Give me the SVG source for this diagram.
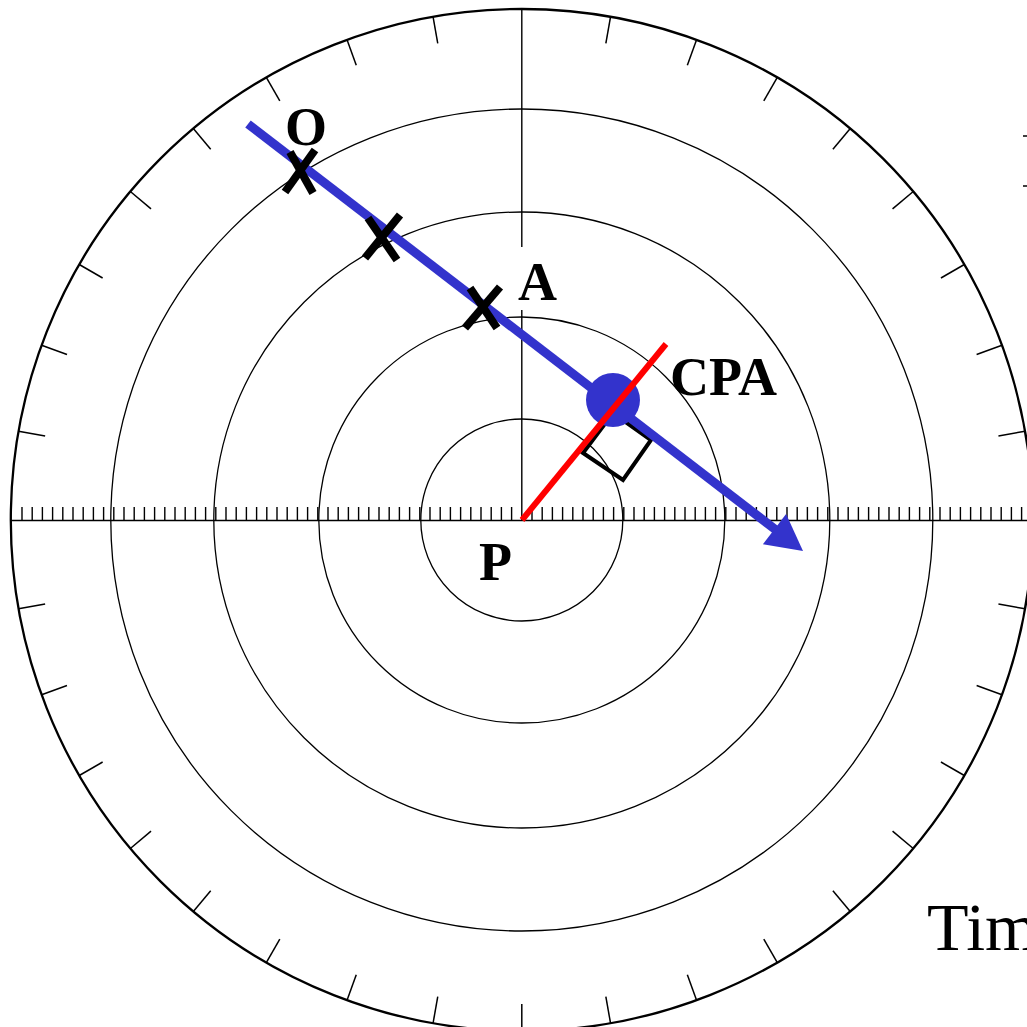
<svg xmlns="http://www.w3.org/2000/svg" width="1027" height="1027" viewBox="0 0 1027 1027">
<style>
.ring{fill:none;stroke:#000;stroke-width:1.3}
.outer{fill:none;stroke:#000;stroke-width:2.3}
.tick{stroke:#000;stroke-width:1.5}
.axis{stroke:#000;stroke-width:1.4;fill:none}
.xm{stroke:#000;stroke-width:8;stroke-linecap:butt}
.lbl{font-family:"Liberation Serif","Times New Roman",serif;font-weight:bold;font-size:54px;fill:#000}
.big{font-family:"Liberation Serif","Times New Roman",serif;font-size:68px;fill:#000}
.track{stroke:#3333CC;stroke-width:9;fill:none}
.cpa{stroke:#FF0000;stroke-width:6;fill:none}
</style>
<defs>
<line id="otick" class="tick" x1="521.8" y1="9" x2="521.8" y2="36"/>
</defs>
<rect width="1027" height="1027" fill="#fff"/>
<g id="grid">
<circle class="outer" cx="521.8" cy="520" r="511"/>
<circle class="ring" cx="521.8" cy="520" r="101"/>
<circle class="ring" cx="521.8" cy="520" r="203"/>
<circle class="ring" cx="521.8" cy="520" r="308"/>
<circle class="ring" cx="521.8" cy="520" r="411"/>
<g id="outer-ticks">
<use href="#otick" transform="rotate(10 521.8 520)"/>
<use href="#otick" transform="rotate(20 521.8 520)"/>
<use href="#otick" transform="rotate(30 521.8 520)"/>
<use href="#otick" transform="rotate(40 521.8 520)"/>
<use href="#otick" transform="rotate(50 521.8 520)"/>
<use href="#otick" transform="rotate(60 521.8 520)"/>
<use href="#otick" transform="rotate(70 521.8 520)"/>
<use href="#otick" transform="rotate(80 521.8 520)"/>
<use href="#otick" transform="rotate(100 521.8 520)"/>
<use href="#otick" transform="rotate(110 521.8 520)"/>
<use href="#otick" transform="rotate(120 521.8 520)"/>
<use href="#otick" transform="rotate(130 521.8 520)"/>
<use href="#otick" transform="rotate(140 521.8 520)"/>
<use href="#otick" transform="rotate(150 521.8 520)"/>
<use href="#otick" transform="rotate(160 521.8 520)"/>
<use href="#otick" transform="rotate(170 521.8 520)"/>
<use href="#otick" transform="rotate(180 521.8 520)"/>
<use href="#otick" transform="rotate(190 521.8 520)"/>
<use href="#otick" transform="rotate(200 521.8 520)"/>
<use href="#otick" transform="rotate(210 521.8 520)"/>
<use href="#otick" transform="rotate(220 521.8 520)"/>
<use href="#otick" transform="rotate(230 521.8 520)"/>
<use href="#otick" transform="rotate(240 521.8 520)"/>
<use href="#otick" transform="rotate(250 521.8 520)"/>
<use href="#otick" transform="rotate(260 521.8 520)"/>
<use href="#otick" transform="rotate(280 521.8 520)"/>
<use href="#otick" transform="rotate(290 521.8 520)"/>
<use href="#otick" transform="rotate(300 521.8 520)"/>
<use href="#otick" transform="rotate(310 521.8 520)"/>
<use href="#otick" transform="rotate(320 521.8 520)"/>
<use href="#otick" transform="rotate(330 521.8 520)"/>
<use href="#otick" transform="rotate(340 521.8 520)"/>
<use href="#otick" transform="rotate(350 521.8 520)"/>
</g>
<path class="axis" d="M11 520.5H1027M521.8 9V247M521.8 310V520"/>
<path class="axis" d="M22 507v13.5M32.2 507v13.5M42.4 507v13.5M52.6 507v13.5M62.8 507v13.5M73 507v13.5M83.2 507v13.5M93.4 507v13.5M103.6 507v13.5M113.8 507v13.5M124 507v13.5M134.2 507v13.5M144.4 507v13.5M154.6 507v13.5M164.8 507v13.5M175 507v13.5M185.2 507v13.5M195.4 507v13.5M205.6 507v13.5M215.8 507v13.5M226 507v13.5M236.2 507v13.5M246.4 507v13.5M256.6 507v13.5M266.8 507v13.5M277 507v13.5M287.2 507v13.5M297.4 507v13.5M307.6 507v13.5M317.8 507v13.5M328 507v13.5M338.2 507v13.5M348.4 507v13.5M358.6 507v13.5M368.8 507v13.5M379 507v13.5M389.2 507v13.5M399.4 507v13.5M409.6 507v13.5M419.8 507v13.5M430 507v13.5M440.2 507v13.5M450.4 507v13.5M460.6 507v13.5M470.8 507v13.5M481 507v13.5M491.2 507v13.5M501.4 507v13.5M511.6 507v13.5M532 507v13.5M542.2 507v13.5M552.4 507v13.5M562.6 507v13.5M572.8 507v13.5M583 507v13.5M593.2 507v13.5M603.4 507v13.5M613.6 507v13.5M623.8 507v13.5M634 507v13.5M644.2 507v13.5M654.4 507v13.5M664.6 507v13.5M674.8 507v13.5M685 507v13.5M695.2 507v13.5M705.4 507v13.5M715.6 507v13.5M725.8 507v13.5M736 507v13.5M746.2 507v13.5M756.4 507v13.5M766.6 507v13.5M776.8 507v13.5M787 507v13.5M797.2 507v13.5M807.4 507v13.5M817.6 507v13.5M827.8 507v13.5M838 507v13.5M848.2 507v13.5M858.4 507v13.5M868.6 507v13.5M878.8 507v13.5M889 507v13.5M899.2 507v13.5M909.4 507v13.5M919.6 507v13.5M929.8 507v13.5M940 507v13.5M950.2 507v13.5M960.4 507v13.5M970.6 507v13.5M980.8 507v13.5M991 507v13.5M1001.2 507v13.5M1011.4 507v13.5M1021.6 507v13.5"/>
<path class="axis" stroke-width="1.5" d="M1023 136H1027M1023 186H1027"/>
</g>
<g id="right-angle">
<polygon points="613,413 651,440 623,480 583,453" fill="none" stroke="#000" stroke-width="4"/>
</g>
<g id="connectors">
<line class="track" x1="248" y1="124" x2="776" y2="530"/>
<polygon points="803,551 762.9,544.2 786.1,514" fill="#3333CC"/>
<circle cx="613" cy="400" r="27" fill="#3333CC"/>
<line class="cpa" x1="522" y1="520" x2="666" y2="344"/>
</g>
<g id="node-O">
<line class="xm" x1="285" y1="192" x2="315" y2="150"/>
<line class="xm" x1="290" y1="152" x2="313" y2="193"/>
<text class="lbl" x="285" y="145">O</text>
</g>
<g id="node-X2">
<line class="xm" x1="365" y1="258" x2="400" y2="215"/>
<line class="xm" x1="368" y1="218" x2="397" y2="260"/>
</g>
<g id="node-A">
<line class="xm" x1="465" y1="328" x2="500" y2="287"/>
<line class="xm" x1="470" y1="288" x2="497" y2="328"/>
<text class="lbl" x="518" y="300">A</text>
</g>
<g id="node-CPA">
<text class="lbl" x="670" y="395">CPA</text>
</g>
<g id="node-P">
<text class="lbl" x="479" y="580">P</text>
</g>
<g id="caption">
<text class="big" x="927" y="950">Tim</text>
</g>
</svg>
